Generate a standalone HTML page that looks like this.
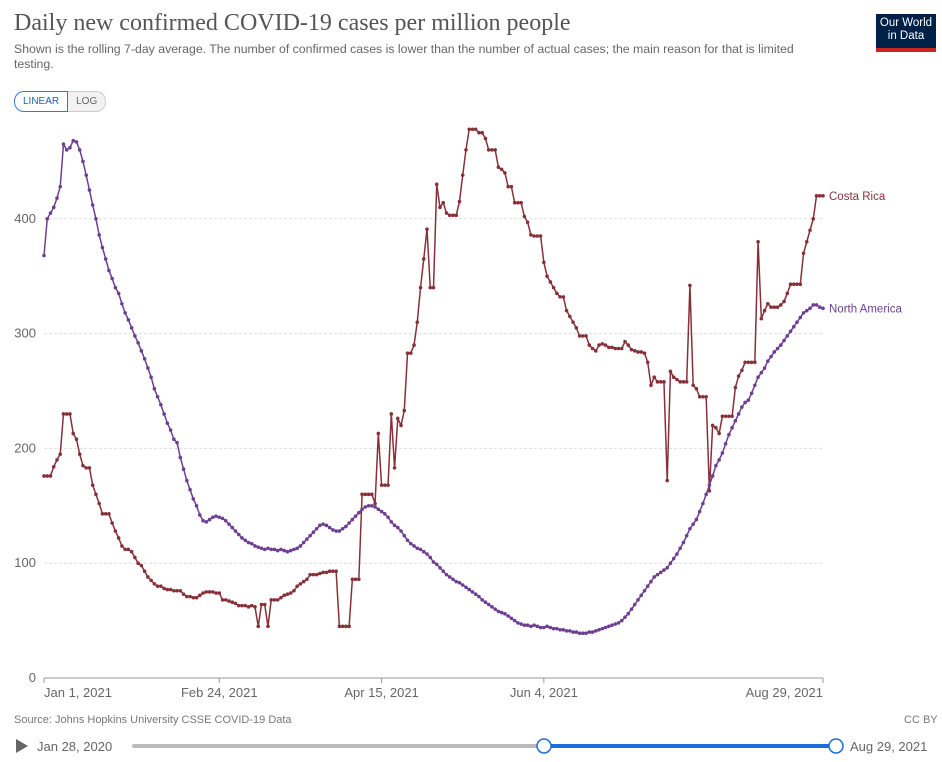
<!DOCTYPE html>
<html><head><meta charset="utf-8">
<style>
body{margin:0;width:942px;height:762px;background:#fff;font-family:"Liberation Sans",sans-serif;overflow:hidden;position:relative}
.title{position:absolute;left:14px;top:10px;font-family:"Liberation Serif",serif;font-size:24px;color:#555}
.sub{position:absolute;left:14px;top:42px;width:820px;font-size:12.3px;color:#666;line-height:15px}
.btns{position:absolute;left:14px;top:91px;display:flex}
.btn{font-size:10px;padding:4px 8px;border:1px solid #ccc;color:#666;background:#f2f2f2}
.btn.on{border-color:#3b77c9;color:#1f5fb4;background:#fff;border-radius:10px 0 0 10px}
.btn.off{border-radius:0 10px 10px 0;border-left:none}
.logo{position:absolute;left:876px;top:14px;width:60px;height:38px;background:#002147;color:#fff;font-size:11.5px;text-align:center;line-height:13px;padding-top:3px;box-sizing:border-box;border-bottom:4px solid #ce261e}
.src{position:absolute;left:14px;top:714px;font-size:11px;color:#777}
.cc{position:absolute;left:904px;top:714px;font-size:11px;color:#777}
</style></head><body>
<div class="title">Daily new confirmed COVID-19 cases per million people</div>
<div class="sub">Shown is the rolling 7-day average. The number of confirmed cases is lower than the number of actual cases; the main reason for that is limited testing.</div>
<div class="btns"><span class="btn on">LINEAR</span><span class="btn off">LOG</span></div>
<div class="logo">Our World<br>in Data</div>
<div class="src">Source: Johns Hopkins University CSSE COVID-19 Data</div>
<div class="cc">CC BY</div>
<svg id="chart" width="942" height="762" style="position:absolute;left:0;top:0"></svg>
<script>
const yTicks=[0,100,200,300,400];
const xTickLabels=["Jan 1, 2021","Feb 24, 2021","Apr 15, 2021","Jun 4, 2021","Aug 29, 2021"];
const xTickDays=[0,54,104,154,240];
const seriesNames=["Costa Rica","North America"];
const costaRica=[176,176,176,184,190,195,230,230,230,213,
208,195,185,183,183,168,160,152,143,143,
143,135,128,122,115,112,112,110,105,100,
98,93,88,85,82,80,80,78,77,77,
76,76,76,73,71,71,70,70,72,74,
75,75,75,74,74,68,68,67,66,65,
63,63,63,62,63,62,45,64,64,45,
68,68,68,70,72,73,74,76,80,82,
84,86,90,90,90,91,92,92,93,93,
93,45,45,45,45,86,86,86,160,160,
160,160,152,213,168,168,168,230,183,226,
220,233,283,283,290,310,340,365,391,340,
340,430,410,414,405,403,403,403,415,438,
460,478,478,478,475,475,470,460,460,460,
445,443,440,428,428,414,414,414,402,397,
386,385,385,385,362,350,345,340,335,332,
332,320,315,310,305,298,298,298,290,287,
285,290,291,290,288,288,287,287,287,293,
290,286,285,284,284,283,275,255,262,258,
258,258,172,267,262,260,258,258,258,342,
255,252,245,245,245,163,220,218,213,228,
228,228,228,253,263,268,275,275,275,275,
380,313,320,326,323,323,323,325,328,335,
343,343,343,343,370,380,390,400,420,420,
420];
const northAmerica=[368,400,405,410,418,428,465,460,462,468,
467,460,450,438,425,412,400,386,375,365,
355,348,340,335,326,318,312,305,298,292,
285,278,270,262,252,245,238,230,222,216,
208,205,192,182,172,164,156,150,142,137,
136,138,140,141,140,139,137,134,131,128,
125,122,120,118,117,115,114,113,112,113,
112,112,111,112,111,110,111,112,113,115,
118,121,124,127,130,133,134,133,131,129,
128,128,130,132,135,138,141,144,147,149,
150,150,149,147,145,143,140,136,133,131,
128,124,120,117,115,113,112,110,108,105,
101,99,96,93,90,88,86,84,83,81,
79,77,75,73,71,68,66,64,62,60,
58,57,56,54,52,50,48,47,46,46,
45,46,45,44,44,45,44,43,43,42,
42,41,41,40,40,39,39,39,40,40,
41,42,43,44,45,46,47,48,50,53,
56,60,64,68,72,76,80,84,88,90,
92,94,96,100,104,108,113,118,124,130,
134,138,145,152,160,168,176,185,190,196,
204,212,218,224,230,236,240,242,248,255,
262,266,270,276,280,284,287,290,294,298,
302,306,310,314,318,320,322,325,325,323,
322];
const NS="http://www.w3.org/2000/svg";
const svg=document.getElementById('chart');
const x0=44,x1=823,y0=678,pxPer=1.148;
const xs=d=>x0+(x1-x0)*d/240;
const ys=v=>y0-v*pxPer;
function mk(t,a){const e=document.createElementNS(NS,t);for(const k in a)e.setAttribute(k,a[k]);svg.appendChild(e);return e;}
yTicks.forEach(v=>{
  if(v>0){const g=mk('line',{x1:x0,x2:x1,y1:ys(v),y2:ys(v),stroke:'#ddd','stroke-dasharray':'3,2'});
  
  }
  const t=mk('text',{x:36,y:ys(v)+4,'text-anchor':'end','font-size':'13',fill:'#666','font-family':'Liberation Sans'});
  t.textContent=v;
  
  
});
const ax=mk('line',{x1:x0,x2:x1,y1:y0,y2:y0,stroke:'#999'});


xTickDays.forEach((d,i)=>{
  const tk=mk('line',{x1:xs(d),x2:xs(d),y1:y0,y2:y0+5,stroke:'#999'});
  
  
  const anchor=i==0?'start':(i==xTickLabels.length-1?'end':'middle');
  const t=mk('text',{x:xs(d),y:697,'text-anchor':anchor,'font-size':'13',fill:'#666','font-family':'Liberation Sans'});
  t.textContent=xTickLabels[i];
  
  
});
const colors=['#883039','#6d3e91'];
[costaRica,northAmerica].forEach((arr,si)=>{
  const p=mk('polyline',{points:arr.map((v,i)=>xs(i)+','+ys(v)).join(' '),fill:'none',stroke:colors[si],'stroke-width':1.5});
  
  
  arr.forEach((v,i)=>{
    const c=mk('circle',{cx:xs(i),cy:ys(v),r:1.8,fill:colors[si]});
    
    
  });
  const last=arr[arr.length-1];
  const t=mk('text',{x:829,y:ys(last)+4,'font-size':'11.5',fill:colors[si],'font-family':'Liberation Sans'});
  t.textContent=seriesNames[si];
  
  
});
const pl=mk('path',{d:'M16 739 L28 746 L16 753 Z',fill:'#666'});


const ts=mk('text',{x:37,y:751,'font-size':'13',fill:'#666','font-family':'Liberation Sans'});
ts.textContent='Jan 28, 2020';


const tr=mk('rect',{x:132,y:744,width:704,height:4,rx:2,fill:'#bbb'});


const ta=mk('rect',{x:544,y:744,width:292,height:4,fill:'#1a6fd8'});


[544,836].forEach((cx,i)=>{
  const h=mk('circle',{cx:cx,cy:746,r:7,fill:'#fff',stroke:'#1a6fd8','stroke-width':1.5});
  
  
});
const te=mk('text',{x:850,y:751,'font-size':'13',fill:'#666','font-family':'Liberation Sans'});
te.textContent='Aug 29, 2021';


</script>
</body></html>
